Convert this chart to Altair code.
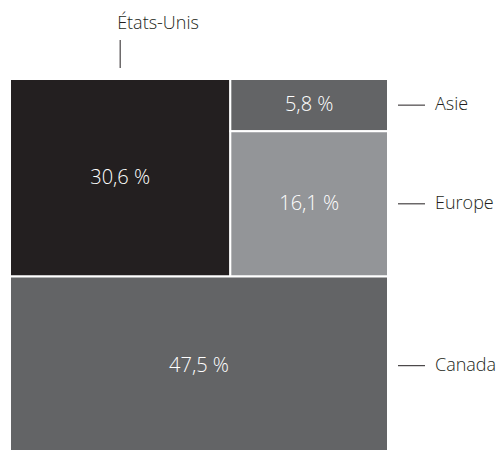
import altair as alt
import pandas as pd

# Data
regions = ["États-Unis", "Asie", "Europe", "Canada"]
values = [30.6, 5.8, 16.1, 47.5]
colors = ["#231f20", "#636466", "#939598", "#636466"]
label_side = ["top", "right", "right", "right"]

v = dict(zip(regions, values))
total = sum(values)

# Treemap layout (slice and dice) computed from values
canada_h = v["Canada"] / total
top_h = 1 - canada_h
us_w = v["États-Unis"] / (total - v["Canada"])
right_tot = v["Asie"] + v["Europe"]
asie_h = top_h * v["Asie"] / right_tot

layout = {
    "États-Unis": (0, us_w, 0, top_h),
    "Asie": (us_w, 1, 0, asie_h),
    "Europe": (us_w, 1, asie_h, top_h),
    "Canada": (0, 1, top_h, 1),
}

rows = []
for name, val, col, side in zip(regions, values, colors, label_side):
    x0, x1, y0, y1 = layout[name]
    rows.append({
        "name": name, "value": val, "color": col, "side": side,
        "x0": x0, "x1": x1, "y0": y0, "y1": y1,
        "xc": (x0 + x1) / 2, "yc": (y0 + y1) / 2,
        "label": f"{val:.1f}".replace(".", ",") + " %",
    })
df = pd.DataFrame(rows)

W, H = 378, 371
YR = 376  # the treemap runs slightly past the bottom edge (cropped)
xs = alt.Scale(domain=[0, 1], range=[0, W])
ys = alt.Scale(domain=[0, 1], range=[0, YR])
FONT = "Open Sans"

base = alt.Chart(df)

rects = base.mark_rect(stroke="white", strokeWidth=2).encode(
    x=alt.X("x0:Q", scale=xs, axis=None),
    x2="x1:Q",
    y=alt.Y("y0:Q", scale=ys, axis=None),
    y2="y1:Q",
    color=alt.Color("name:N", scale=alt.Scale(domain=regions, range=colors), legend=None),
)

pct = base.mark_text(font=FONT, fontSize=20, fontWeight=300, color="white").encode(
    x=alt.X("xc:Q", scale=xs),
    y=alt.Y("yc:Q", scale=ys),
    text="label:N",
)

right = base.transform_filter(alt.datum.side == "right")
leaders = right.mark_rule(color="#231f20", strokeWidth=1).encode(
    x=alt.value(W + 10),
    x2=alt.value(W + 37),
    y=alt.Y("yc:Q", scale=ys),
)
rlabels = right.mark_text(font=FONT, fontSize=18, fontWeight=300, color="#231f20", align="left").encode(
    x=alt.value(W + 47),
    y=alt.Y("yc:Q", scale=ys),
    text="name:N",
)

top = base.transform_filter(alt.datum.side == "top")
vline = top.mark_rule(color="#231f20", strokeWidth=1).encode(
    x=alt.X("xc:Q", scale=xs),
    y=alt.value(-39),
    y2=alt.value(-11),
)
tlabel = top.mark_text(font=FONT, fontSize=18, fontWeight=300, color="#231f20",
                       align="left", dx=-3).encode(
    x=alt.X("xc:Q", scale=xs),
    y=alt.value(-55),
    text="name:N",
)

chart = alt.layer(rects, pct, leaders, rlabels, vline, tlabel).properties(
    width=W, height=H,
    autosize=alt.AutoSizeParams(type="none"),
    padding={"left": 10, "top": 79, "right": 114, "bottom": 0},
).configure_view(stroke=None)

chart.save("out.html", embed_options={"renderer": "svg", "actions": False})
